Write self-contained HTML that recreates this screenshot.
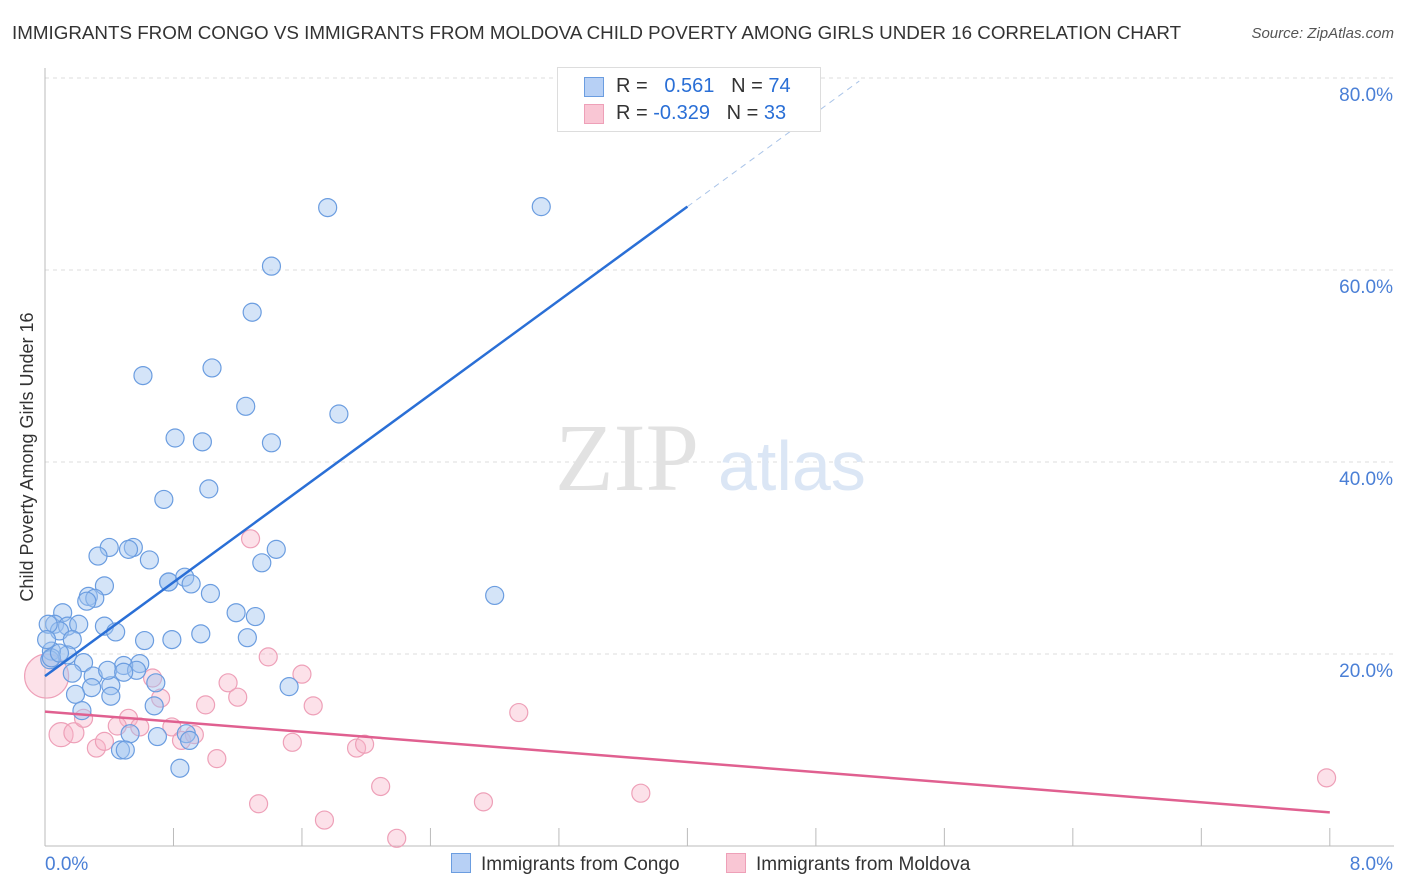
<!DOCTYPE html>
<html><head><meta charset="utf-8">
<style>
body{margin:0;background:#fff;font-family:"Liberation Sans",sans-serif;}
#c{position:relative;width:1406px;height:892px;overflow:hidden}
.t{position:absolute;white-space:nowrap}
</style></head>
<body><div id="c">
<div class="t" style="left:12px;top:22px;font-size:18.8px;color:#333">IMMIGRANTS FROM CONGO VS IMMIGRANTS FROM MOLDOVA CHILD POVERTY AMONG GIRLS UNDER 16 CORRELATION CHART</div>
<div class="t" style="right:12px;top:25px;font-size:15px;color:#555;font-style:italic">Source: ZipAtlas.com</div>
<svg id="s" width="1406" height="892" style="position:absolute;left:0;top:0"></svg>
</div>
<script>
const yTicks=[20,40,60,80];
const yTickLabels=["20.0%","40.0%","60.0%","80.0%"];
const xTickLabels=["0.0%","8.0%"];
const congoX=[1.76,3.09,1.41,1.29,0.61,1.04,1.25,1.83,0.81,0.98,1.41,1.02,0.74,0.40,0.55,0.52,0.33,0.65,1.44,1.35,0.37,0.77,0.77,0.87,0.91,1.03,2.80,0.27,0.31,0.26,0.11,1.19,1.31,0.06,0.14,0.21,0.37,0.44,0.09,0.17,0.97,0.62,0.79,1.26,0.14,0.04,0.24,0.59,0.03,0.17,0.49,0.30,0.41,0.69,0.29,1.52,0.19,0.41,0.23,0.68,0.53,0.70,0.88,0.47,0.50,0.90,0.84,0.57,0.39,0.04,0.09,0.02,0.01,0.49];
const congoY=[66.5,66.6,60.4,55.6,49.0,49.8,45.8,45.0,42.5,42.1,42.0,37.2,36.1,31.1,31.1,30.9,30.2,29.8,30.9,29.5,27.1,27.5,27.5,28.0,27.3,26.3,26.1,26.0,25.8,25.5,24.3,24.3,23.9,23.1,22.9,23.1,22.9,22.3,22.4,21.5,22.1,21.4,21.5,21.7,19.9,20.3,19.1,19.0,19.4,18.0,18.8,17.7,16.7,17.0,16.5,16.6,15.8,15.6,14.1,14.6,11.7,11.4,11.7,10.0,10.0,11.0,8.1,18.3,18.3,19.6,20.1,23.1,21.5,18.1];
const moldX=[0.01,0.10,0.18,0.32,0.37,0.24,0.52,0.45,0.59,0.72,0.67,0.79,0.85,0.93,1.00,1.07,1.14,1.20,1.28,1.39,1.60,1.67,1.54,1.94,1.99,2.09,1.33,1.74,2.19,2.73,2.95,3.71,7.98];
const moldY=[17.7,11.6,11.8,10.2,10.9,13.3,13.3,12.5,12.4,15.4,17.5,12.4,11.0,11.6,14.7,9.1,17.0,15.5,32.0,19.7,17.9,14.6,10.8,10.2,10.6,6.2,4.4,2.7,0.8,4.6,13.9,5.5,7.1];
const moldR=[22,12,10,9,9,9,9,9,9,9,9,9,9,9,9,9,9,9,9,9,9,9,9,9,9,9,9,9,9,9,9,9,9];
const blueLine=[17.7,66.6], pinkLine=[14.0,3.5];
const blueEndX=4.0, blueDashEndX=5.07;
const X=v=>45+v*160.6, Y=v=>846-v*9.6;
const s=document.getElementById('s'),NS='http://www.w3.org/2000/svg';
function el(t,a,p){const e=document.createElementNS(NS,t);for(const k in a)e.setAttribute(k,a[k]);(p||s).appendChild(e);return e;}
yTicks.forEach((v,i)=>{
 const g=el('line',{x1:45,x2:1394,y1:Y(v),y2:Y(v),stroke:'#ddd','stroke-dasharray':'4,4'});
 
 
 const t=el('text',{x:1393,y:Y(v)+23,'text-anchor':'end','font-size':19,fill:'#4a7fd6','font-family':'Liberation Sans'});
 t.textContent=yTickLabels[i];
 
 
});
const ax=el('line',{x1:45,x2:45,y1:68,y2:846,stroke:'#bbb'});
const bx=el('line',{x1:45,x2:1394,y1:846,y2:846,stroke:'#bbb'});
for(let i=1;i<=10;i++){const tk=el('line',{x1:X(i*0.8),x2:X(i*0.8),y1:828,y2:846,stroke:'#bbb'});}
[[0,'start',45],[1,'end',1393]].forEach(([i,a,x])=>{const t=el('text',{x:x,y:870,'text-anchor':a,'font-size':19,fill:'#4a7fd6','font-family':'Liberation Sans'});t.textContent=xTickLabels[i];});
const yt=el('text',{x:33,y:457,transform:'rotate(-90 33 457)','text-anchor':'middle','font-size':18,fill:'#333','font-family':'Liberation Sans'});yt.textContent='Child Poverty Among Girls Under 16';
const w1=el('text',{x:555,y:490,'font-size':96,fill:'#e2e2e2','font-family':'Liberation Serif'});w1.textContent='ZIP';
const w2=el('text',{x:718,y:490,'font-size':70,fill:'#dbe6f5','font-family':'Liberation Sans'});w2.textContent='atlas';
moldX.forEach((v,i)=>{const c=el('circle',{cx:X(v),cy:Y(moldY[i]),r:moldR[i],fill:'rgba(248,180,200,0.4)',stroke:'#eea0b8','stroke-width':1.2});});
congoX.forEach((v,i)=>{const c=el('circle',{cx:X(v),cy:Y(congoY[i]),r:9,fill:'rgba(160,196,240,0.45)',stroke:'#6b9de0','stroke-width':1.2});});
const slope=(blueLine[1]-blueLine[0])/blueEndX;
const bd=el('line',{x1:X(blueEndX),y1:Y(blueLine[1]),x2:X(blueDashEndX),y2:Y(blueLine[0]+slope*blueDashEndX),stroke:'#aac4e8','stroke-dasharray':'6,5','stroke-width':1});
const bl=el('line',{x1:X(0),y1:Y(blueLine[0]),x2:X(blueEndX),y2:Y(blueLine[1]),stroke:'#2a6fd6','stroke-width':2.5});
const pl=el('line',{x1:X(0),y1:Y(pinkLine[0]),x2:X(8),y2:Y(pinkLine[1]),stroke:'#e06090','stroke-width':2.5});
</script>
<div class="t" style="left:557px;top:67px;width:262px;height:63px;border:1px solid #ddd;background:#fff;font-size:20px">
 <div style="position:absolute;left:26px;top:9px;width:18px;height:18px;background:#b7d0f5;border:1px solid #6b9de0"></div>
 <div style="position:absolute;left:26px;top:36px;width:18px;height:18px;background:#f9c6d4;border:1px solid #eea0b8"></div>
 <div style="position:absolute;left:58px;top:7px;color:#333">R = &nbsp;&nbsp;<span style="color:#2a6fd6">0.561</span>&nbsp;&nbsp;&nbsp;N = <span style="color:#2a6fd6">74</span></div>
 <div style="position:absolute;left:58px;top:34px;color:#333">R = <span style="color:#2a6fd6">-0.329</span>&nbsp;&nbsp;&nbsp;N = <span style="color:#2a6fd6">33</span></div>
</div>
<div class="t" style="left:451px;top:853px;font-size:19px;color:#333"><span style="display:inline-block;width:18px;height:18px;background:#b7d0f5;border:1px solid #6b9de0;vertical-align:-3px;margin-right:10px"></span>Immigrants from Congo</div>
<div class="t" style="left:726px;top:853px;font-size:19px;color:#333"><span style="display:inline-block;width:18px;height:18px;background:#f9c6d4;border:1px solid #eea0b8;vertical-align:-3px;margin-right:10px"></span>Immigrants from Moldova</div>
</body></html>
